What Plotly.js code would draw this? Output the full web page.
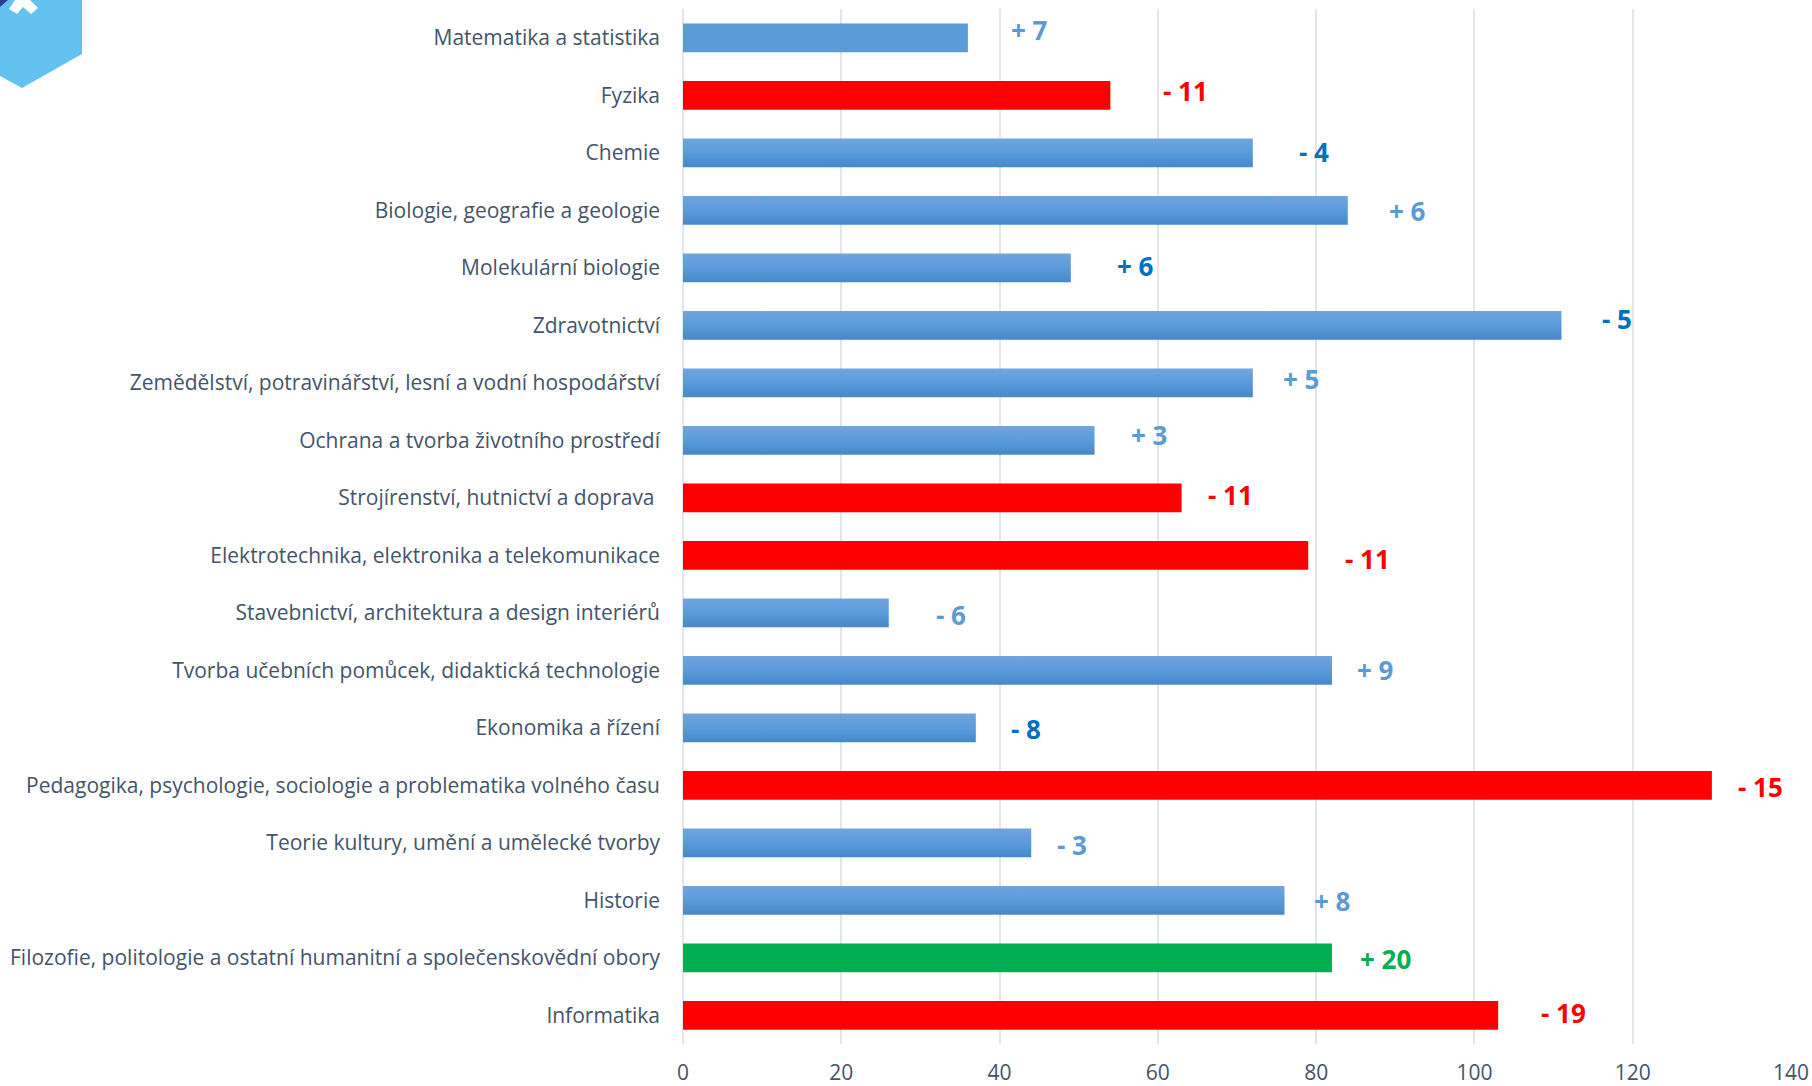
<!DOCTYPE html>
<html><head><meta charset="utf-8">
<script src="https://cdn.plot.ly/plotly-3.0.1.min.js"></script>
<style>html,body{margin:0;padding:0;background:#fff;overflow:hidden}#logo{position:absolute;left:0;top:0;z-index:5}</style>
</head><body>
<div id="chart" style="width:1812px;height:1086px"></div>
<svg id="logo" width="90" height="95" viewBox="0 0 90 95">
<polygon points="0,0 82,0 82,54 22,88 0,76" fill="#63C2F0"/>
<polygon points="0,0 8,0 0,7" fill="#2E3E92"/>
<polygon points="9,9 15,0 30,0 38,8 31,14 23,7 17,14" fill="#fff"/>
</svg>
<script>
const categories = ["Matematika a statistika","Fyzika","Chemie","Biologie, geografie a geologie","Molekulární biologie","Zdravotnictví","Zemědělství, potravinářství, lesní a vodní hospodářství","Ochrana a tvorba životního prostředí","Strojírenství, hutnictví a doprava ","Elektrotechnika, elektronika a telekomunikace","Stavebnictví, architektura a design interiérů","Tvorba učebních pomůcek, didaktická technologie","Ekonomika a řízení","Pedagogika, psychologie, sociologie a problematika volného času","Teorie kultury, umění a umělecké tvorby","Historie","Filozofie, politologie a ostatní humanitní a společenskovědní obory","Informatika"];
const values = [36,54,72,84,49,111,72,52,63,79,26,82,37,130,44,76,82,103];
const changes = ["+ 7","- 11","- 4","+ 6","+ 6","- 5","+ 5","+ 3","- 11","- 11","- 6","+ 9","- 8","- 15","- 3","+ 8","+ 20","- 19"];
const barColors = ["#5B9BD5","#FF0000","#5B9BD5","#5B9BD5","#5B9BD5","#5B9BD5","#5B9BD5","#5B9BD5","#FF0000","#FF0000","#5B9BD5","#5B9BD5","#5B9BD5","#FF0000","#5B9BD5","#5B9BD5","#00B050","#FF0000"];
const labelColors = ["#5B9BD5","#FF0000","#0070C0","#5B9BD5","#0070C0","#0070C0","#5B9BD5","#5B9BD5","#FF0000","#FF0000","#5B9BD5","#5B9BD5","#0070C0","#FF0000","#5B9BD5","#5B9BD5","#00B050","#FF0000"];
// label centre along the value axis, and its pixel shift from the bar centre
const labelX = [43.74,63.48,79.7,91.54,57.19,118,78.09,58.94,69.18,86.43,33.8,87.45,43.3,136.13,49.15,82.04,88.77,111.28];
const labelDy = [-8,-4,-1,1,-2,-6,-4,-5,-3,4,2,0,1,2,2,1,1,-2];

const annotations = categories.map((c,i)=>({x:labelX[i],y:c,xref:'x',yref:'y',text:changes[i],showarrow:false,yshift:-labelDy[i],
  font:{family:'"Open Sans",sans-serif',size:26,weight:700,color:labelColors[i]},xanchor:'center',yanchor:'middle'}));

Plotly.newPlot('chart',[{type:'bar',orientation:'h',y:categories,x:values,width:0.5,marker:{color:barColors,line:{width:0}},hoverinfo:'x+y'}],{
  width:1812,height:1086,showlegend:false,paper_bgcolor:'#fff',plot_bgcolor:'#fff',
  margin:{l:682.6,r:21.3,t:9,b:42,pad:0},
  annotations,
  xaxis:{range:[0,140],tick0:0,dtick:20,showgrid:true,gridcolor:'#E1E5EC',gridwidth:2,zeroline:true,zerolinecolor:'#E1E5EC',zerolinewidth:2,showline:false,ticks:'',ticklabelstandoff:14,
    tickfont:{family:'"Open Sans",sans-serif',size:21,color:'#44546A'}},
  yaxis:{type:'category',autorange:false,range:[17.5,-0.5],showgrid:false,zeroline:false,showline:false,ticks:'',ticklabelstandoff:22,
    tickfont:{family:'"Open Sans",sans-serif',size:21,color:'#44546A'}}
},{displayModeBar:false}).then(gd=>{
  const svg=gd.querySelector('.main-svg');
  const defs=document.createElementNS('http://www.w3.org/2000/svg','defs');
  defs.innerHTML='<linearGradient id="blueGrad" x1="0" y1="0" x2="0" y2="1"><stop offset="0" stop-color="#70A5DD"/><stop offset="0.5" stop-color="#5B9BDB"/><stop offset="1" stop-color="#4689C8"/></linearGradient>';
  svg.appendChild(defs);
  gd.querySelectorAll('.bars .point path').forEach((p,i)=>{ if(barColors[i]==='#5B9BD5' && i>0) p.style.fill='url(#blueGrad)'; });
});
</script></body></html>
